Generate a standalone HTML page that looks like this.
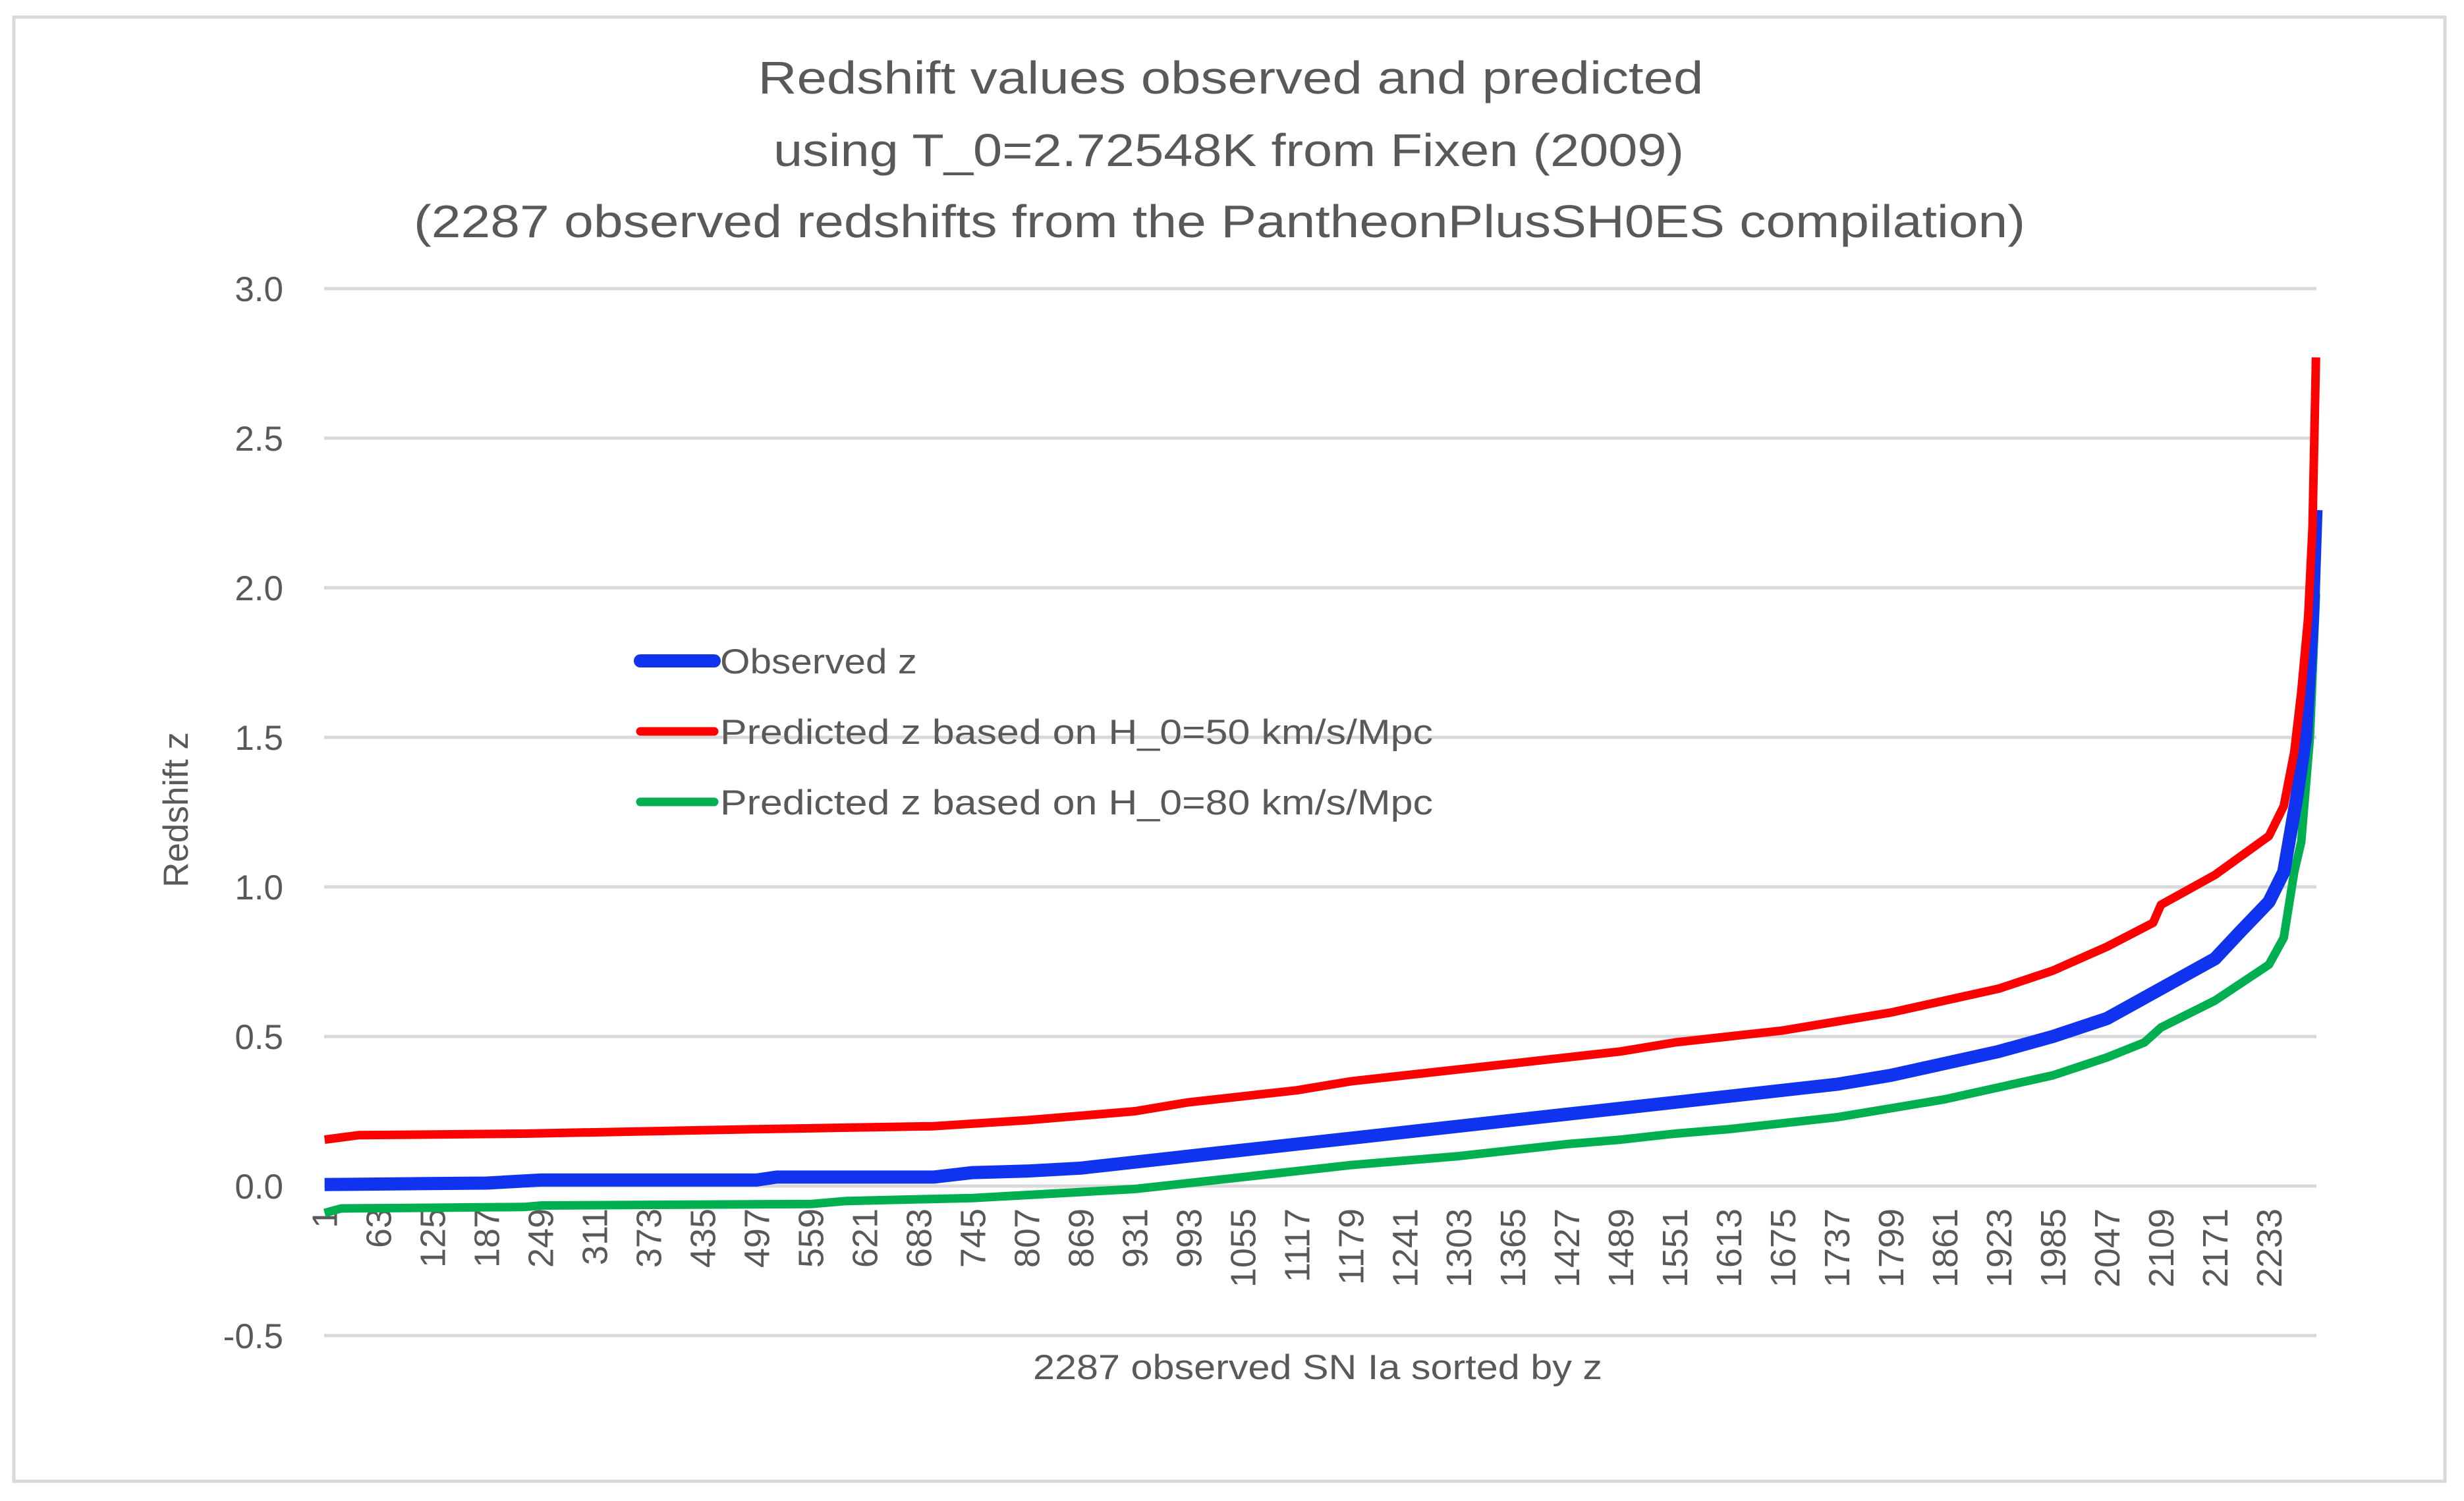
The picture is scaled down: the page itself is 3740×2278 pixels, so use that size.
<!DOCTYPE html>
<html><head><meta charset="utf-8"><style>
html,body{margin:0;padding:0;background:#fff;}
svg{display:block;font-family:"Liberation Sans",sans-serif;}
</style></head><body>
<svg id="chart" width="3740" height="2278" viewBox="0 0 3740 2278">
<rect x="21" y="26" width="3690" height="2222" fill="#fff" stroke="#d9d9d9" stroke-width="5"/>
<g fill="#595959" font-size="70" text-anchor="middle">
<text x="1868" y="142" textLength="1435" lengthAdjust="spacingAndGlyphs">Redshift  values observed and predicted</text>
<text x="1865" y="252" textLength="1382" lengthAdjust="spacingAndGlyphs">using T_0=2.72548K from Fixen (2009)</text>
<text x="1851" y="360" textLength="2446" lengthAdjust="spacingAndGlyphs">(2287 observed redshifts from the PantheonPlusSH0ES compilation)</text>
</g>
<g id="grid"></g>
<g id="yticks" fill="#595959" font-size="53" text-anchor="end"></g>
<g id="xticks" fill="#595959" font-size="54"></g>
<text x="285" y="1229" transform="rotate(-90 285 1229)" text-anchor="middle" fill="#595959" font-size="53">Redshift z</text>
<text x="2000" y="2093" text-anchor="middle" fill="#595959" font-size="53" textLength="864" lengthAdjust="spacingAndGlyphs">2287 observed SN Ia sorted by z</text>
<g id="series"></g>
<g id="legend"></g>
</svg>
<script>
const N = 2287;
const yTicks = [-0.5, 0, 0.5, 1.0, 1.5, 2.0, 2.5, 3.0];
const xTickLabels = [];
for (let k = 1; k <= N; k += 62) xTickLabels.push(k);
const obsIdx = [1,187,249,497,520,700,745,807,869,931,993,1055,1117,1179,1241,1303,1365,1427,1489,1551,1613,1675,1737,1799,1861,1923,1985,2047,2109,2171,2200,2233,2250,2265,2275,2283,2287];
const obsZ = [0.005,0.01,0.02,0.02,0.03,0.03,0.045,0.05,0.06,0.08,0.1,0.12,0.14,0.16,0.18,0.2,0.22,0.24,0.26,0.28,0.3,0.32,0.34,0.37,0.41,0.45,0.5,0.56,0.66,0.76,0.85,0.95,1.05,1.3,1.5,1.9,2.26];
const h50Idx = [1,40,230,497,700,807,869,931,993,1055,1117,1179,1241,1303,1365,1427,1489,1551,1613,1675,1737,1799,1861,1923,1985,2047,2100,2109,2171,2233,2250,2262,2270,2278,2283,2287];
const h50Z = [0.155,0.17,0.175,0.19,0.2,0.22,0.235,0.25,0.28,0.3,0.32,0.35,0.37,0.39,0.41,0.43,0.45,0.48,0.5,0.52,0.55,0.58,0.62,0.66,0.72,0.8,0.88,0.94,1.04,1.17,1.27,1.45,1.65,1.9,2.2,2.77];
const h80Idx = [1,20,230,250,560,600,745,869,931,993,1055,1117,1179,1241,1303,1365,1427,1489,1551,1613,1675,1737,1799,1861,1923,1985,2047,2090,2109,2171,2233,2250,2262,2270,2280,2287];
const h80Z = [-0.09,-0.075,-0.07,-0.065,-0.06,-0.05,-0.04,-0.02,-0.01,0.01,0.03,0.05,0.07,0.085,0.1,0.12,0.14,0.155,0.175,0.19,0.21,0.23,0.26,0.29,0.33,0.37,0.43,0.48,0.53,0.62,0.74,0.83,1.05,1.15,1.5,1.98];

const PL = 492, PR = 3516, Y0 = 1800, PER = 454;
const xs = i => PL + (i - 0.5) / N * (PR - PL);
const ys = v => Y0 - v * PER;
const NS = 'http://www.w3.org/2000/svg';
function mk(tag, attrs, parent) {
  const e = document.createElementNS(NS, tag);
  for (const k in attrs) e.setAttribute(k, attrs[k]);
  parent.appendChild(e); return e;
}
const grid = document.getElementById('grid');
const yt = document.getElementById('yticks');
yTicks.forEach(v => {
  const l = mk('line', {x1: PL, x2: PR, y1: ys(v), y2: ys(v), stroke: '#d9d9d9', 'stroke-width': 5}, grid);
  
  
  const t = mk('text', {x: 430, y: ys(v) + 19}, yt);
  t.textContent = v.toFixed(1);
  
  
});
const xt = document.getElementById('xticks');
xTickLabels.forEach(k => {
  const x = xs(k) + 19, y = 1834;
  const t = mk('text', {x: x, y: y, transform: 'rotate(-90 ' + x + ' ' + y + ')', 'text-anchor': 'end'}, xt);
  t.textContent = k;
  
  
});
const ser = document.getElementById('series');
function line(idx, z, color, w, name) {
  const pts = idx.map((i, j) => xs(i).toFixed(1) + ',' + ys(z[j]).toFixed(1)).join(' ');
  const p = mk('polyline', {points: pts, fill: 'none', stroke: color, 'stroke-width': w, 'stroke-linejoin': 'round'}, ser);
  
  
}
line(h80Idx, h80Z, '#00b050', 13, 'series-h0-80');
line(obsIdx, obsZ, '#0f33ef', 20, 'series-observed');
line(h50Idx, h50Z, '#ff0000', 13, 'series-h0-50');
const lg = document.getElementById('legend');
const items = [['Observed z', '#0f33ef', 20, 1003, 299], ['Predicted z based on H_0=50 km/s/Mpc', '#ff0000', 13, 1110, 1082], ['Predicted z based on H_0=80 km/s/Mpc', '#00b050', 13, 1217, 1082]];
items.forEach(it => {
  const g = mk('g', {}, lg);
  
  
  mk('line', {x1: 972, x2: 1084, y1: it[3], y2: it[3], stroke: it[1], 'stroke-width': it[2], 'stroke-linecap': 'round'}, g);
  const t = mk('text', {x: 1093, y: it[3] + 19, fill: '#595959', 'font-size': 53, textLength: it[4], lengthAdjust: 'spacingAndGlyphs'}, g);
  t.textContent = it[0];
});
</script>
</body></html>
